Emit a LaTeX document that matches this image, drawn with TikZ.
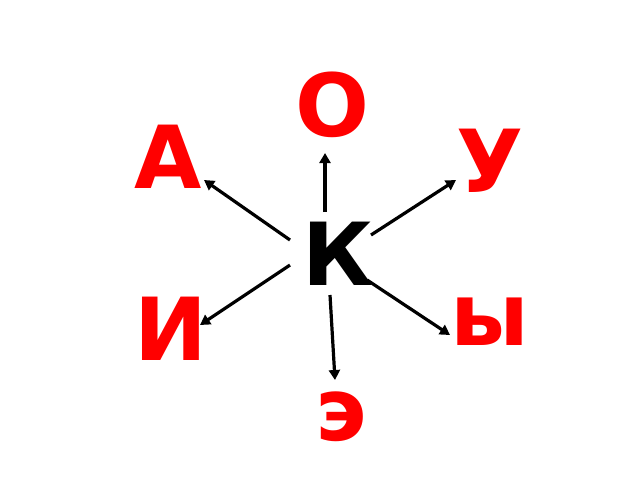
\documentclass[tikz,border=0pt]{standalone}
\usepackage{fontspec}
\setmainfont{DejaVu Sans}
\usetikzlibrary{arrows.meta, positioning, calc}

\tikzset{
  letter/.style={text=red, anchor=base, inner sep=0pt, font=\fontsize{87}{87}\selectfont\bfseries},
  arr/.style={-{Triangle[length=10pt, width=11pt]}, line width=3.2pt}
}

\begin{document}
\begin{tikzpicture}[x=1pt, y=-1pt]
\useasboundingbox (0,0) rectangle (640,480); % 画布大小
% 中间的字母
\node[letter, text=black] (k) at (338,285) {К};
% 周围的元音字母
\node[letter] (o) at (332,136) {О};
\node[letter] (a) at (168,188) {А};
\node[letter] (u) at (490,192) {У};
\node[letter] (i) at (171,360) {И};
\node[letter] (y) at (490,345) {ы};
\node[letter] (e) at (341,440) {э};
% 箭头起点和终点
\coordinate (ko) at (325,212); \coordinate (to) at (325,153);
\coordinate (ka) at (290,240); \coordinate (ta) at (204,180);
\coordinate (ku) at (371,235); \coordinate (tu) at (456,180);
\coordinate (ki) at (290,265); \coordinate (ti) at (200,325);
\coordinate (ky) at (367,280); \coordinate (ty) at (450,335);
\coordinate (ke) at (330,295); \coordinate (te) at (335,380);
\foreach \s/\t in {ko/to, ka/ta, ku/tu, ki/ti, ky/ty, ke/te}
  \draw[arr] (\s) -- (\t);
\end{tikzpicture}
\end{document}
